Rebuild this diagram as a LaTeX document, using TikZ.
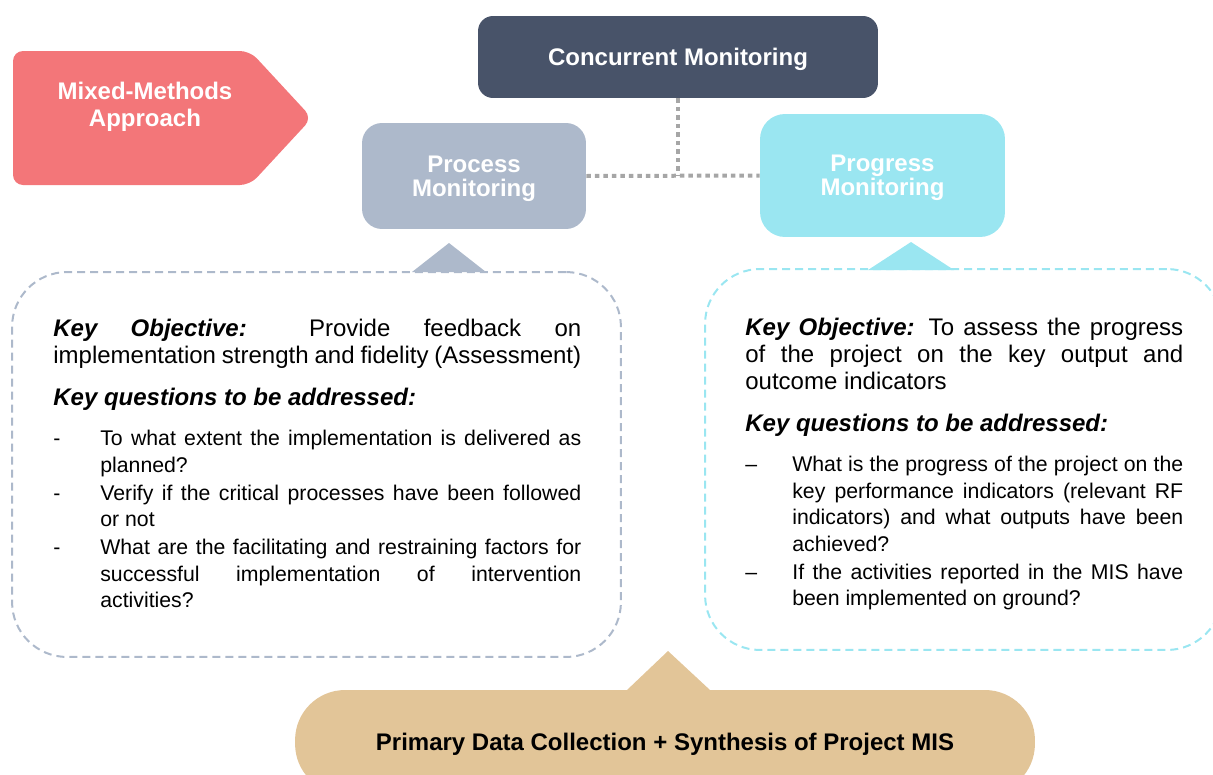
\documentclass[tikz,border=0pt]{standalone}
\usepackage{fontspec}
\setmainfont{Liberation Sans}
\usepackage{tikz}
\usetikzlibrary{calc}
\definecolor{MixedRed}{HTML}{F37679}
\definecolor{ConcSlate}{HTML}{485369}
\definecolor{ProcGray}{HTML}{ADB9CB}
\definecolor{ProgCyan}{HTML}{9AE6F1}
\definecolor{DataTan}{HTML}{E2C598}
\definecolor{LinkGray}{HTML}{A6A6A6}
\setlength{\parindent}{0pt}
\newcommand{\boxfont}{\fontsize{13.66}{13.9}\selectfont\bfseries}
\newcommand{\bodyfont}{\fontsize{13.66}{15.2}\selectfont
  \hyphenpenalty=10000\exhyphenpenalty=10000\emergencystretch=2em}
\newcommand{\itemfont}{\fontsize{12.1}{15.2}\selectfont}
\newcommand{\qindent}{0.94cm}
\newcommand{\keyobj}{\textbf{\textit{Key Objective:}}}
\newcommand{\keyq}{\par\vspace{9pt}\textbf{\textit{Key questions to be addressed:}}\par\vspace{7.5pt}}
\newcommand{\qitem}[2]{\par{\itemfont\hangindent=\qindent\hangafter=1
  \makebox[\qindent][l]{#1}#2\par}\vspace{0.5pt}}

\begin{document}
\begin{tikzpicture}[x=0.02cm,y=-0.02cm,
    headbox/.style={font=\boxfont,text=white,align=center,inner sep=0pt,text depth=0pt},
    calloutbox/.style={dash pattern=on 0.16cm off 0.1cm,line width=0.04cm,
      rounded corners=1.1cm,inner sep=0pt},
    calloutbody/.style={font=\bodyfont,anchor=north west,inner sep=0pt,align=justify},
    link/.style={LinkGray,line width=0.08cm,dash pattern=on 0.09cm off 0.08cm}]
    \useasboundingbox (0,0) rectangle (1213,774);
    \clip (0,0) rectangle (1213,774);

    % mixed-methods arrow
    \fill[MixedRed,rounded corners=0.2cm] (13,51) -- (250,51) -- (312,118)
      -- (250,185) -- (13,185) -- cycle;
    \node[headbox] (mixed) at (145,104) {Mixed-Methods\\[1.5pt]Approach};

    % monitoring boxes
    \node[headbox,fill=ConcSlate,minimum width=8cm,minimum height=1.64cm,
      rounded corners=0.3cm] (conc) at (678,57) {Concurrent Monitoring};
    \node[headbox,fill=ProcGray,minimum width=4.48cm,minimum height=2.12cm,
      rounded corners=0.4cm] (proc) at (474,176) {Process\\Monitoring};
    \node[headbox,fill=ProgCyan,minimum width=4.9cm,minimum height=2.46cm,
      rounded corners=0.5cm] (prog) at (882.5,175.5) {Progress\\Monitoring};
    \draw[link] (proc.east) -- (prog.west);
    \draw[link] (conc.south) -- (conc.south |- proc.east);

    % dashed callouts
    \node[calloutbox,draw=ProcGray,minimum width=12.18cm,minimum height=7.7cm]
      (lbox) at (316.5,464.5) {};
    \node[calloutbox,draw=ProgCyan,minimum width=10.34cm,minimum height=7.62cm]
      (rbox) at (963.5,459.5) {};
    \fill[ProcGray] (412,272) -- (449,243) -- (486,272) -- cycle;
    \fill[ProgCyan] (868,270) -- (911,242) -- (954,270) -- cycle;

    \node[calloutbody,text width=10.56cm] (ltext) at (53,319) {%
      \keyobj{} Provide feedback on\linebreak
      implementation strength and fidelity (Assessment)
      \keyq
      \qitem{-}{To what extent the implementation is delivered as\linebreak planned?}
      \qitem{-}{Verify if the critical processes have been followed\linebreak or not}
      \qitem{-}{What are the facilitating and restraining factors for\linebreak
        successful implementation of intervention\linebreak activities?}};
    \node[calloutbody,text width=8.76cm] (rtext) at (745,318) {%
      \keyobj{} To assess the progress\linebreak of the project on the key output
      and\linebreak outcome indicators
      \keyq
      \qitem{\textendash}{What is the progress of the project on the\linebreak
        key performance indicators (relevant RF\linebreak indicators) and what
        outputs have been\linebreak achieved?}
      \qitem{\textendash}{If the activities reported in the MIS have\linebreak
        been implemented on ground?}};

    % data source
    \fill[DataTan] (627,690) -- (668,651) -- (710,690) -- cycle;
    \node[font=\boxfont,fill=DataTan,minimum width=14.8cm,minimum height=2.08cm,
      text depth=0pt,rounded corners=1cm] (data) at (665,742)
      {Primary Data Collection + Synthesis of Project MIS};
  \end{tikzpicture}
\end{document}
